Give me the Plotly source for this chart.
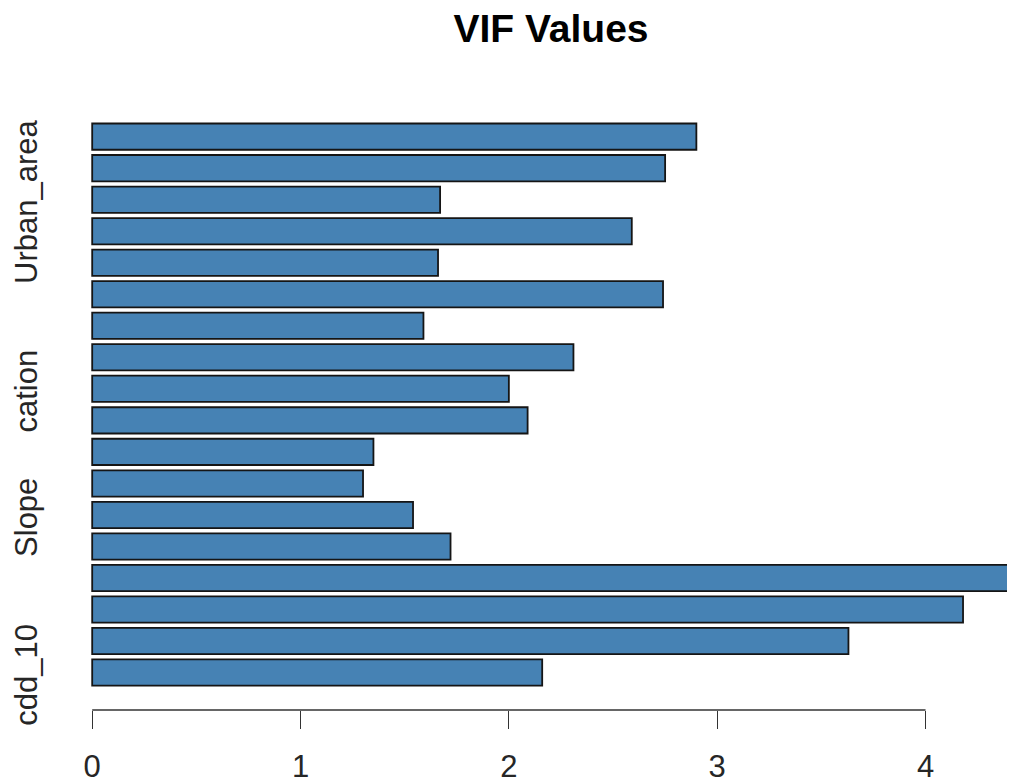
import plotly.graph_objects as go

# VIF values, bottom bar first (as drawn by R's horizontal barplot)
vif_values = [2.16, 3.63, 4.18, 4.60, 1.72, 1.54, 1.30, 1.35, 2.09,
              2.00, 2.31, 1.59, 2.74, 1.66, 2.59, 1.67, 2.75, 2.90]
bar_index = list(range(len(vif_values)))

# Only the labels R managed to draw without overlap
label_index = [0, 5, 9, 15]
label_text = ["cdd_10", "Slope", "cation", "Urban_area"]

x_ticks = [0, 1, 2, 3, 4]

FONT = "Liberation Sans, Arial, sans-serif"
TXT = "#262626"

# page body has an 8px default margin; figure is sized to fit the window
W, H = 1007, 775

fig = go.Figure()
fig.add_trace(go.Bar(
    x=vif_values,
    y=bar_index,
    orientation="h",
    marker=dict(color="#4682B4", line=dict(color="#151515", width=1.8)),
    width=0.833,
    showlegend=False,
))

fig.update_layout(
    width=W,
    height=H,
    paper_bgcolor="white",
    plot_bgcolor="white",
    margin=dict(l=47, r=0, t=93, b=73),
    title=dict(
        text="<b>VIF Values</b>",
        font=dict(family=FONT, size=39, color="#000000"),
        xref="container", x=543 / W, xanchor="center",
        yref="container", y=1 - 20 / H, yanchor="middle",
    ),
    xaxis=dict(
        range=[-0.1785, 4.4294],
        tickvals=x_ticks,
        ticktext=[str(t) for t in x_ticks],
        ticks="outside",
        ticklen=18,
        tickwidth=1.4,
        tickcolor="#333333",
        showline=False,
        showgrid=False,
        zeroline=False,
        tickfont=dict(family=FONT, size=31, color=TXT),
        ticklabelstandoff=11,
    ),
    yaxis=dict(
        range=[-1.187, 18.13],
        tickvals=label_index,
        ticktext=label_text,
        tickangle=-90,
        ticks="",
        showline=False,
        showgrid=False,
        zeroline=False,
        tickfont=dict(family=FONT, size=31, color=TXT),
        ticklabelstandoff=11,
        ticklabelshift=7,
    ),
)

# R-style axis line spanning only the tick range
fig.add_shape(type="line", xref="x", yref="paper",
              x0=x_ticks[0], x1=x_ticks[-1], y0=0, y1=0,
              line=dict(color="#333333", width=1.4))

fig.write_html("out.html")
